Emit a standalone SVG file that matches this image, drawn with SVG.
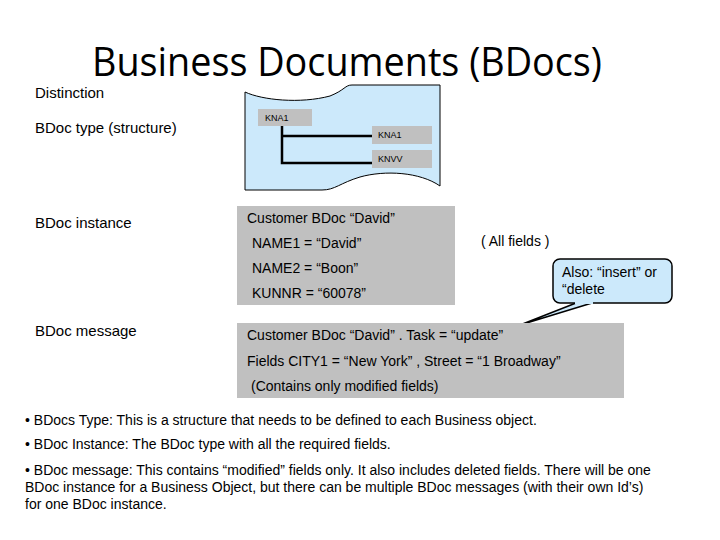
<svg xmlns="http://www.w3.org/2000/svg" width="720" height="540" viewBox="0 0 720 540">
<style>
text{font-family:"Liberation Sans",Arial,sans-serif;fill:#000}
.lab{font-size:15px}
.g{fill:#c0c0c0}
.t{font-size:14px}
.s{font-size:9px}
.b{font-size:14px}
</style>
<rect width="720" height="540" fill="#fff"/>
<text x="92" y="76" textLength="510" lengthAdjust="spacingAndGlyphs" style="font-family:'Open Sans','Liberation Sans',sans-serif;font-size:40px">Business Documents (BDocs)</text>
<text class="lab" x="35" y="98">Distinction</text>
<text class="lab" x="35" y="133">BDoc type (structure)</text>
<text class="lab" x="35" y="228">BDoc instance</text>
<text class="lab" x="35" y="336">BDoc message</text>
<g id="scroll">
<path d="M245,92 C262,100 300,104 330,96 C345,90 345,85 352,85 L440,85 L440,186 C420,172 385,170 360,177 C340,183 335,190 322,190 L245,190 Z" fill="#cce9fb" stroke="#000" stroke-width="1"/>
</g>
<g id="connectors">
<path d="M282,126 V163 H372 M282,136 H372" fill="none" stroke="#000" stroke-width="2.5"/>
<path d="M576,303 L520,325 L592,303" fill="#cce9fb" stroke="#000" stroke-width="1.5"/>
</g>
<g id="kna1a"><rect class="g" x="258" y="109" width="54" height="17"/><text class="s" x="265" y="121">KNA1</text></g>
<g id="kna1b"><rect class="g" x="372" y="126" width="60" height="18"/><text class="s" x="378" y="138">KNA1</text></g>
<g id="knvv"><rect class="g" x="372" y="150" width="60" height="18"/><text class="s" x="378" y="162">KNVV</text></g>
<g id="instance">
<rect class="g" x="237" y="206" width="218" height="99"/>
<text class="t" x="247" y="223">Customer BDoc “David”</text>
<text class="t" x="252" y="248">NAME1 =  “David”</text>
<text class="t" x="252" y="273">NAME2 =  “Boon”</text>
<text class="t" x="252" y="298">KUNNR =  “60078”</text>
</g>
<text class="t" x="481" y="246">( All fields )</text>
<g id="message">
<rect class="g" x="237" y="323" width="387" height="75"/>
<text class="t" x="247" y="340">Customer BDoc “David” . Task = “update”</text>
<text class="t" x="247" y="366">Fields CITY1 = “New York” , Street = “1 Broadway”</text>
<text class="t" x="251" y="391">(Contains only modified fields)</text>
</g>
<g id="callout">
<rect x="553" y="259" width="119" height="44" rx="7" fill="#cce9fb" stroke="#000" stroke-width="1.5"/>
<rect x="575" y="300" width="18" height="4" fill="#cce9fb"/>
<text class="t" x="562" y="277">Also: “insert” or</text>
<text class="t" x="562" y="294">“delete</text>
</g>
<text class="b" x="25" y="425">• BDocs Type: This is a structure that needs to be defined to each Business object.</text>
<text class="b" x="25" y="449">• BDoc Instance: The BDoc type with all the required fields.</text>
<text class="b" x="25" y="475">• BDoc message: This contains “modified” fields only. It also includes deleted fields. There will be one</text>
<text class="b" x="25" y="492">BDoc instance for a Business Object, but there can be multiple BDoc messages (with their own Id’s)</text>
<text class="b" x="25" y="509">for one BDoc instance.</text>
</svg>
